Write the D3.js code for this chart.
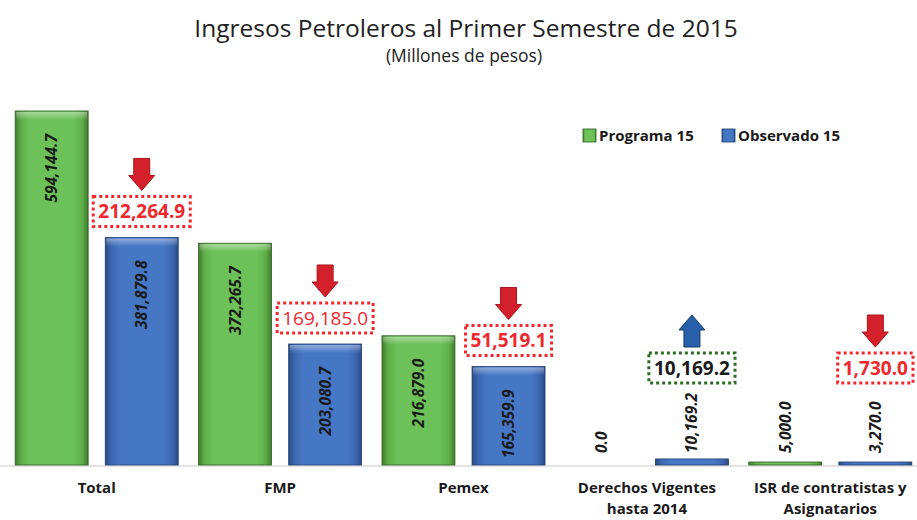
<!DOCTYPE html>
<html lang="es">
<head>
    <meta charset="UTF-8">
    <title>Ingresos Petroleros</title>
    <script src="https://d3js.org/d3.v7.min.js"></script>
    <style>
        body { margin: 0; background: #fff; }
        svg { display: block; font-family: "Open Sans", "Noto Sans", sans-serif; }
    </style>
</head>
<body>
    <svg id="chart" width="917" height="520"></svg>
    <script>
        // data
        const categories = ["Total", "FMP", "Pemex", "Derechos Vigentes hasta 2014", "ISR de contratistas y Asignatarios"];
        const categoryLines = [["Total"], ["FMP"], ["Pemex"], ["Derechos Vigentes", "hasta 2014"], ["ISR de contratistas y", "Asignatarios"]];
        const programa = [594144.7, 372265.7, 216879.0, 0.0, 5000.0];
        const observado = [381879.8, 203080.7, 165359.9, 10169.2, 3270.0];
        const seriesNames = ["Programa 15", "Observado 15"];

        const svg = d3.select("#chart");
        const width = +svg.attr("width");
        const baseY = 465;

        const fmt = d3.format(",.1f");

        const x0 = d3.scaleBand().domain(categories).range([5, 922]);
        const x1 = d3.scaleBand().domain(["p", "o"]).range([0, x0.bandwidth()])
            .paddingInner(0.19).paddingOuter(0.113);
        const y = d3.scaleLinear().domain([0, 600000]).range([baseY, 107.5]);

        // gradients for bevelled bars
        const defs = svg.append("defs");
        function makeGrad(id, dark, mid, light) {
            const g = defs.append("linearGradient").attr("id", id)
                .attr("x1", "0%").attr("x2", "100%").attr("y1", "0%").attr("y2", "0%");
            [[0, dark], [0.08, mid], [0.2, light], [0.8, light], [0.92, mid], [1, dark]].forEach(s => {
                g.append("stop").attr("offset", s[0]).attr("stop-color", s[1]);
            });
        }
        makeGrad("gGreen", "#3f7a2c", "#5fae48", "#6cc159");
        makeGrad("gBlue", "#274b86", "#3c67b0", "#4677c4");
        const topGrad = defs.append("linearGradient").attr("id", "gTop")
            .attr("x1", "0%").attr("x2", "0%").attr("y1", "0%").attr("y2", "100%");
        topGrad.append("stop").attr("offset", 0).attr("stop-color", "#fff").attr("stop-opacity", 0.4);
        topGrad.append("stop").attr("offset", 1).attr("stop-color", "#fff").attr("stop-opacity", 0);

        // title
        svg.append("text").attr("x", 466).attr("y", 37).attr("text-anchor", "middle")
            .style("font-size", "24.5px").attr("fill", "#222")
            .text("Ingresos Petroleros al Primer Semestre de 2015");
        svg.append("text").attr("x", 464).attr("y", 62).attr("text-anchor", "middle")
            .style("font-size", "17.5px").attr("fill", "#222")
            .text("(Millones de pesos)");

        // baseline
        svg.append("line").attr("x1", 0).attr("x2", width).attr("y1", baseY + 1).attr("y2", baseY + 1)
            .attr("stroke", "#c8c8c8").attr("stroke-width", 1.2);

        const rows = categories.map((c, i) => ({ cat: c, i: i, p: programa[i], o: observado[i] }));

        const groups = svg.selectAll(".grp").data(rows).enter().append("g")
            .attr("class", "grp")
            .attr("transform", d => `translate(${x0(d.cat)},0)`);

        const bars = groups.selectAll(".bar")
            .data(d => [{ key: "p", v: d.p }, { key: "o", v: d.o }])
            .enter().append("g").attr("class", "bar");

        bars.filter(d => d.v > 0).append("rect")
            .attr("x", d => x1(d.key))
            .attr("y", d => Math.min(y(d.v), baseY - 3))
            .attr("width", x1.bandwidth())
            .attr("height", d => Math.max(baseY - y(d.v), 3))
            .attr("fill", d => d.key === "p" ? "url(#gGreen)" : "url(#gBlue)")
            .attr("stroke", d => d.key === "p" ? "#2f5f22" : "#1f3c6e")
            .attr("stroke-width", 0.8);

        bars.filter(d => baseY - y(d.v) > 20).append("rect")
            .attr("x", d => x1(d.key) + 1)
            .attr("y", d => y(d.v) + 1)
            .attr("width", x1.bandwidth() - 2)
            .attr("height", 8)
            .attr("fill", "url(#gTop)");

        // value labels
        const inside = d => baseY - y(d.v) > 50;
        bars.append("text")
            .attr("transform", d => {
                const ty = inside(d) ? y(d.v) + 23 : Math.min(y(d.v) - 6, baseY - 12);
                return `translate(${x1(d.key) + x1.bandwidth() / 2 + 5.5},${ty}) rotate(-90)`;
            })
            .attr("text-anchor", d => inside(d) ? "end" : "start")
            .style("font-size", "15.5px").style("font-weight", "bold").style("font-style", "italic")
            .attr("fill", "#1a1a1a")
            .text(d => fmt(d.v));

        // category labels (one text per line)
        groups.each(function (d) {
            const g = d3.select(this);
            categoryLines[d.i].forEach((l, j) => {
                g.append("text")
                    .attr("x", x0.bandwidth() / 2).attr("y", 493 + j * 21)
                    .attr("text-anchor", "middle")
                    .style("font-size", "15px").style("font-weight", "bold").attr("fill", "#1a1a1a")
                    .text(l);
            });
        });

        // difference annotations
        const ann = groups.append("g").attr("class", "ann")
            .attr("transform", d => {
                const cx = x1("o") + x1.bandwidth() / 2;
                const bottom = Math.min(y(d.o) - 11, 383);
                return `translate(${cx},${bottom})`;
            });

        ann.each(function (d) {
            const g = d3.select(this);
            const diff = Math.abs(d.p - d.o);
            const up = d.o > d.p;
            const txt = g.append("text").attr("x", 0).attr("y", -8)
                .attr("text-anchor", "middle")
                .style("font-size", "19px")
                .style("font-weight", d.i === 1 ? "normal" : "bold")
                .attr("fill", up ? "#1a1a1a" : "#f0282d")
                .text(fmt(diff));
            const bb = txt.node().getBBox();
            const w = bb.width + 10, h = 30;
            g.insert("rect", "text").attr("x", -w / 2).attr("y", -h).attr("width", w).attr("height", h)
                .attr("fill", "none")
                .attr("stroke", up ? "#2e6b26" : "#f0282d")
                .attr("stroke-width", 3).attr("stroke-dasharray", "3,3");
            // arrow
            const top = -h - 38, bot = -h - 6;
            const sw = 8, hw = 13, headLen = 15;
            let pts;
            if (up) {
                pts = [[0, top], [hw, top + headLen], [sw, top + headLen], [sw, bot], [-sw, bot], [-sw, top + headLen], [-hw, top + headLen]];
            } else {
                pts = [[-sw, top], [sw, top], [sw, bot - headLen], [hw, bot - headLen], [0, bot], [-hw, bot - headLen], [-sw, bot - headLen]];
            }
            g.append("path").attr("d", "M" + pts.map(p => p.join(",")).join("L") + "Z")
                .attr("fill", up ? "#2760a8" : "#d4202a")
                .attr("stroke", up ? "#153a6e" : "#a8141c").attr("stroke-width", 1);
        });

        // legend
        const legend = svg.append("g").attr("transform", "translate(583,129)");
        const legX = [0, 139];
        seriesNames.forEach((s, i) => {
            legend.append("rect").attr("x", legX[i]).attr("y", 0).attr("width", 13).attr("height", 13)
                .attr("fill", i === 0 ? "url(#gGreen)" : "url(#gBlue)")
                .attr("stroke", i === 0 ? "#2f5f22" : "#1f3c6e").attr("stroke-width", 0.8);
            legend.append("text").attr("x", legX[i] + 16).attr("y", 12)
                .style("font-size", "15px").style("font-weight", "bold").attr("fill", "#1a1a1a")
                .text(s);
        });
    </script>
</body>
</html>
